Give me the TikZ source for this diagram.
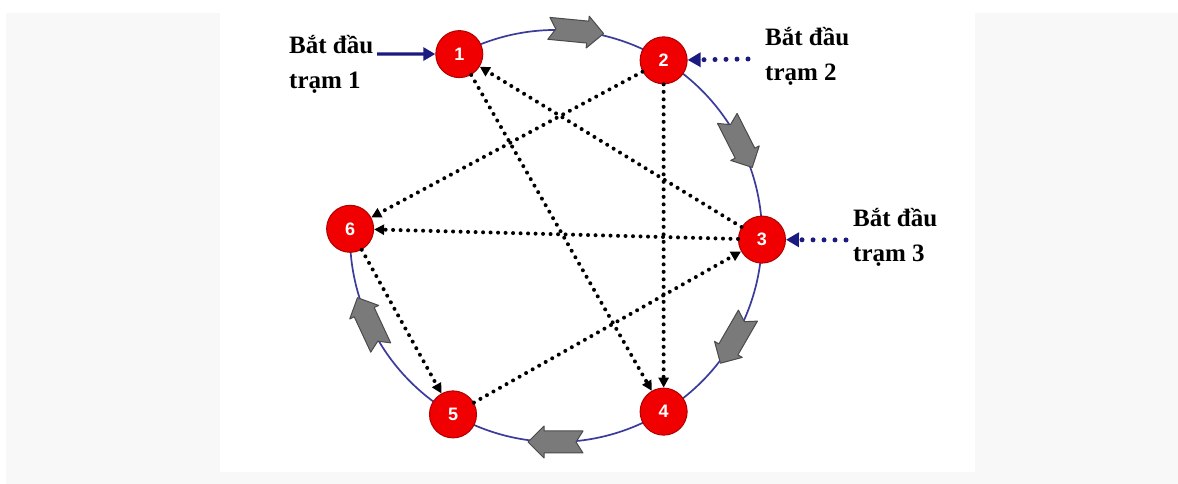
\documentclass[tikz,border=0pt]{standalone}
\usepackage{fontspec}
\setmainfont{Liberation Serif}
\newfontfamily\numfont{Liberation Sans}
\usetikzlibrary{arrows.meta}
\definecolor{ringblue}{HTML}{3B3B9B}
\definecolor{navyarrow}{HTML}{1A1A80}
\definecolor{stred}{HTML}{F00000}
\definecolor{stborder}{HTML}{B00000}
\definecolor{bggrey}{HTML}{F8F8F8}
\definecolor{blkgrey}{HTML}{7A7A7A}
\definecolor{blkedge}{HTML}{4A4A4A}
\newcommand\flowarrow[1]{%
  \begin{scope}[shift={(C)}, rotate=#1]
    \draw[blockarr] (217,27) -- (217,-12) -- (222,-12) -- (206,-28) -- (190,-12)
      -- (195,-12) -- (195,27) -- (206,20) -- cycle;
  \end{scope}}
\begin{document}
\begin{tikzpicture}[x=1pt,y=1pt,
  station/.style={circle, fill=stred, draw=stborder, line width=1pt,
    minimum size=47pt, inner sep=0pt, text=white,
    font=\numfont\bfseries\fontsize{18}{18}\selectfont},
  ring/.style={draw=ringblue, line width=1.7pt},
  blockarr/.style={fill=blkgrey, draw=blkedge, line width=1pt, line join=round},
  dotarrow/.style={draw=black, line width=4pt, line cap=round,
    dash pattern=on 0pt off 7.5pt, -{Triangle[length=10pt,width=10pt]}},
  startsolid/.style={draw=navyarrow, line width=3.2pt, -{Triangle[length=12pt,width=13pt]}},
  startdot/.style={draw=navyarrow, line width=5pt, line cap=round,
    dash pattern=on 0pt off 11pt, -{Triangle[length=13pt,width=14pt]}},
  lbl/.style={anchor=west, align=left, inner sep=0pt,
    font=\bfseries\fontsize{25}{35}\selectfont}
]
\useasboundingbox (0,0) rectangle (1178,484);
\fill[bggrey] (6,0) rectangle (1178,471);
\fill[white] (220,12) rectangle (975,471);

\coordinate (C) at (556,248);
% ring (open between 6 and 1)
\draw[ring] (C) ++(118:206) arc[start angle=118, end angle=-182, radius=206];

% stations
\path (C) ++(118:206) node[station] (n1) {1};
\path (C) ++(58.5:206) node[station] (n2) {2};
\path (C) ++(-1:206) node[station] (n3) {3};
\path (C) ++(-58.5:206) node[station] (n4) {4};
\path (C) ++(-120:206) node[station] (n5) {5};
\path (C) ++(178:206) node[station] (n6) {6};

% flow direction block arrows
\flowarrow{84.5}
\flowarrow{27}
\flowarrow{-30}
\flowarrow{-90}
\flowarrow{-155}

% dotted connections
\draw[dotarrow] (n2) -- (n6);
\draw[dotarrow] (n3) -- (n1);
\draw[dotarrow] (n3) -- (n6);
\draw[dotarrow] (n5) -- (n3);
\draw[dotarrow] (n2) -- (n4);
\draw[dotarrow] (n1) -- (n4);
\draw[dotarrow] (n6) -- (n5);

% start labels
\node[lbl] (t1) at (289,420) {Bắt đầu\\trạm 1};
\node[lbl] (t2) at (765,428) {Bắt đầu\\trạm 2};
\node[lbl] (t3) at (853,247) {Bắt đầu\\trạm 3};

\coordinate (s1) at (377,430);
\coordinate (s2) at (748,425);
\coordinate (s3) at (846,244);
\draw[startsolid] (s1) -- (n1);
\draw[startdot] (s2) -- (n2);
\draw[startdot] (s3) -- (n3);
\end{tikzpicture}
\end{document}
